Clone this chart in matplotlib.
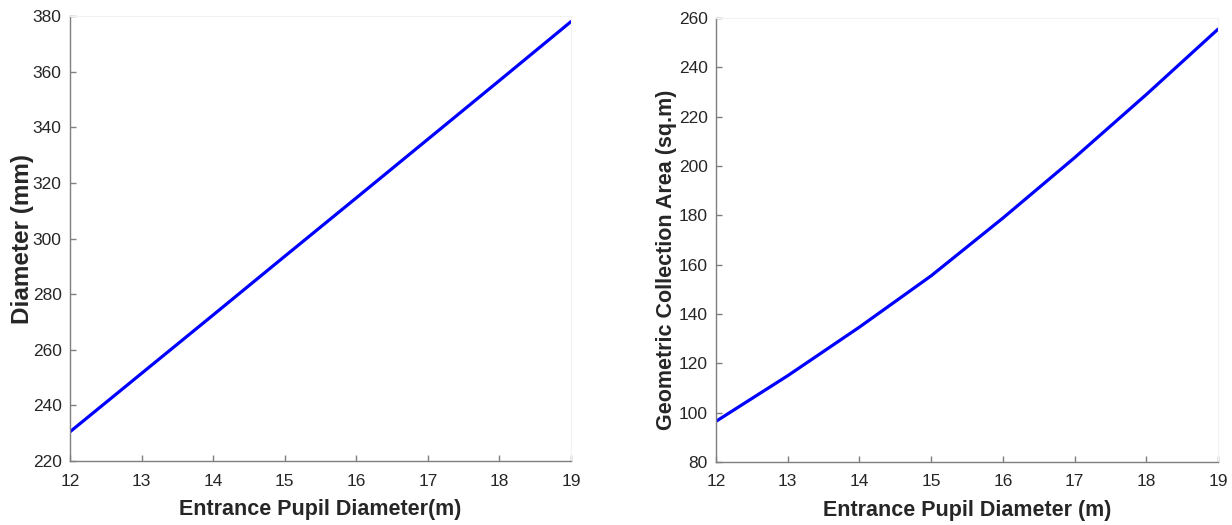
import matplotlib
matplotlib.use("Agg")
import matplotlib.pyplot as plt

plt.rcParams['font.family'] = ['Liberation Sans', 'DejaVu Sans']

# Entrance pupil diameter (m)
pupil = [12, 13, 14, 15, 16, 17, 18, 19]
# Diameter (mm)
diameter_mm = [230.5, 251.5, 272.5, 293.6, 314.6, 335.7, 356.8, 378.0]
# Geometric collection area (sq.m)
area_sqm = [96.5, 115.0, 134.7, 155.5, 178.9, 203.4, 229.0, 255.5]

text_col = '#262626'
spine_col = '#7f7f7f'

fig = plt.figure(figsize=(12.32, 5.25), dpi=100)
ax1 = fig.add_axes([0.0568, 0.1219, 0.4067, 0.8476])
ax2 = fig.add_axes([0.5812, 0.1200, 0.4075, 0.8457])


def style(ax, ylim, yticks):
    ax.set_xlim(12, 19)
    ax.set_xticks(range(12, 20))
    ax.set_ylim(*ylim)
    ax.set_yticks(yticks)
    ax.tick_params(direction='in', length=4, width=1, color=spine_col,
                   labelsize=12.5, labelcolor=text_col)
    ax.tick_params(axis='x', pad=9)
    ax.tick_params(axis='y', pad=6)
    for side in ('left', 'bottom'):
        ax.spines[side].set_color(spine_col)
        ax.spines[side].set_linewidth(1.0)
    for side in ('top', 'right'):
        ax.spines[side].set_color('#f2f2f2')
        ax.spines[side].set_linewidth(0.8)


ax1.plot(pupil, diameter_mm, color='#0000ff', lw=2.3, solid_capstyle='round')
style(ax1, (220, 380), range(220, 381, 20))
ax1.set_xlabel('Entrance Pupil Diameter(m)', fontsize=15.5, fontweight='bold', color=text_col)
ax1.set_ylabel('Diameter (mm)', fontsize=17.5, fontweight='bold', color=text_col)
ax1.xaxis.set_label_coords(0.5, -0.086)
ax1.yaxis.set_label_coords(-0.071, 0.5)

ax2.plot(pupil, area_sqm, color='#0000ff', lw=2.3, solid_capstyle='round')
style(ax2, (80, 260), range(80, 261, 20))
ax2.set_xlabel('Entrance Pupil Diameter (m)', fontsize=15.5, fontweight='bold', color=text_col)
ax2.set_ylabel('Geometric Collection Area (sq.m)', fontsize=15.5, fontweight='bold', color=text_col)
ax2.xaxis.set_label_coords(0.5, -0.086)
ax2.yaxis.set_label_coords(-0.078, 0.455)

fig.savefig('out.png', dpi=100)
